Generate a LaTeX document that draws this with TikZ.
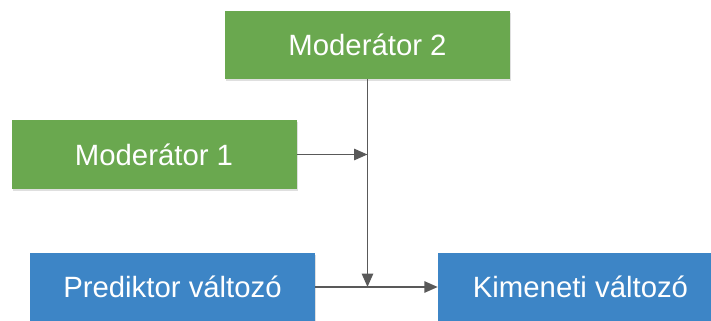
\documentclass[tikz,border=0pt]{standalone}
\usepackage{fontspec}
\setmainfont{Liberation Sans}
\usepackage{xcolor}
\usetikzlibrary{shapes,arrows,positioning,shadows,arrows.meta}

\definecolor{modgreen}{HTML}{6AA84F}
\definecolor{varblue}{HTML}{3D85C6}
\definecolor{linegray}{HTML}{595959}

\begin{document}
\begin{tikzpicture}[x=0.75pt, y=-0.75pt,
    box/.style={rectangle, minimum width=213.75pt, minimum height=51pt, inner sep=0pt,
        text=white, font=\fontsize{22}{26}\selectfont,
        drop shadow={opacity=0.25, shadow xshift=1pt, shadow yshift=-1.5pt}},
    modbox/.style={box, fill=modgreen},
    varbox/.style={box, fill=varblue},
    conn/.style={draw=linegray, line width=1.2pt, -{Triangle[length=10pt, width=8.5pt]}}]
    \clip (0,0) rectangle (711,321);

    % Moderators
    \node[modbox] (mod2) at (367.5,45) {Moderátor 2};
    \node[modbox] (mod1) at (154,154.5) {Moderátor 1};

    % Predictor and outcome
    \node[varbox] (pred) at (172.5,287) {Prediktor változó};
    \node[varbox] (out) at (580.5,287) {Kimeneti változó};

    % Arrows
    \coordinate (joint) at (mod2.south |- pred.east);
    \coordinate (m1in) at (mod2.south |- mod1.east);
    \draw[conn] (mod2.south) -- (joint);
    \draw[conn] (mod1.east) -- (m1in);
    \draw[conn] (pred.east) -- (out.west);
\end{tikzpicture}
\end{document}
